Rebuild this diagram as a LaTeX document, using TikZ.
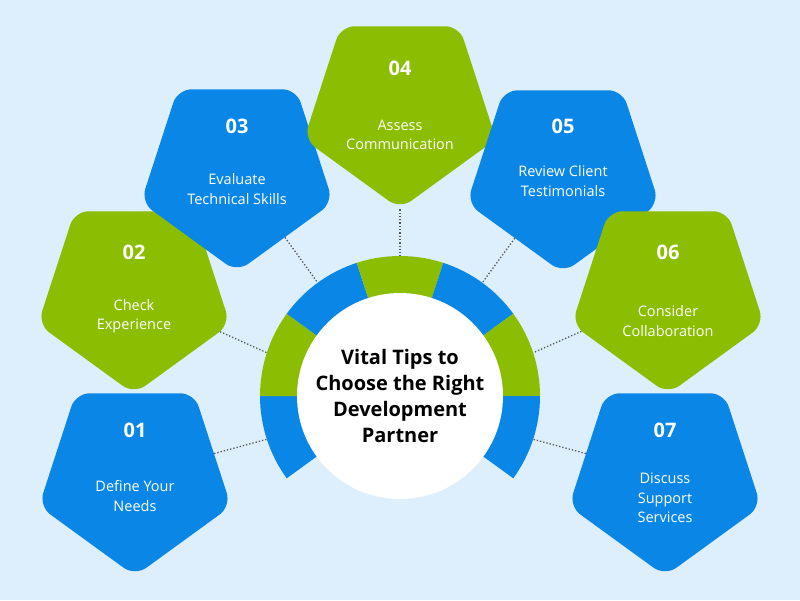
\documentclass[tikz,border=0pt]{standalone}
\usepackage{fontspec}
\setmainfont{Open Sans}
\usetikzlibrary{shapes.geometric}
\definecolor{bg}{HTML}{DDEEFC}
\definecolor{bl}{HTML}{0A86E6}
\definecolor{gr}{HTML}{8BBD00}
\definecolor{dl}{HTML}{555555}
\begin{document}
\begin{tikzpicture}[x=1pt,y=-1pt,
  pent/.style={regular polygon,regular polygon sides=5,shape border rotate=180,minimum size=202pt,inner sep=0pt,rounded corners=14pt,draw=none},
  num/.style={text=white,font=\bfseries\fontsize{20}{22}\selectfont},
  lab/.style={text=white,align=center,font=\fontsize{14.5}{19.5}\selectfont},
  conn/.style={dl,dotted,line width=1.3pt}]
\fill[bg] (0,0) rectangle (800,600);
\useasboundingbox (0,0) rectangle (800,600);
\coordinate (c) at (400,396);
% ring (angles negated because y axis points down)
\foreach \a/\col [count=\i] in {216/bl,180/gr,144/bl,108/gr,72/bl,36/gr,0/bl}{
  \fill[\col] ([shift={(-\a:140)}]c) arc[start angle=-\a,end angle=-\a+36,radius=140] -- ([shift={(-\a+36:100)}]c) arc[start angle=-\a+36,end angle=-\a,radius=100] -- cycle;
  \coordinate (r\i) at ([shift={(-\a+18:140)}]c);
}
\node[circle,fill=white,minimum size=206pt,inner sep=0pt,align=center,font=\bfseries\fontsize{20}{26}\selectfont] (center) at (c) {Vital Tips to\\Choose the Right\\Development\\Partner};
% pentagons
\node[pent,fill=bl] (p1) at (135,475) {};
\node[pent,fill=gr] (p2) at (134,293) {};
\node[pent,fill=bl] (p3) at (237,171) {};
\node[pent,fill=gr] (p4) at (400,108) {};
\node[pent,fill=bl] (p5) at (563,172) {};
\node[pent,fill=gr] (p6) at (668,293) {};
\node[pent,fill=bl] (p7) at (665,475) {};
\foreach \i in {1,...,7}{\draw[conn] (p\i) -- (r\i);}
\node[num] (n1) at (135,430) {01};
\node[lab] (t1) at (135,496) {Define Your\\Needs};
\node[num] (n2) at (134,252) {02};
\node[lab] (t2) at (134,316) {Check\\Experience};
\node[num] (n3) at (237,126) {03};
\node[lab] (t3) at (237,189) {Evaluate\\Technical Skills};
\node[num] (n4) at (400,68) {04};
\node[lab] (t4) at (400,135) {Assess\\Communication};
\node[num] (n5) at (563,126) {05};
\node[lab] (t5) at (563,181) {Review Client\\Testimonials};
\node[num] (n6) at (668,252) {06};
\node[lab] (t6) at (668,321) {Consider\\Collaboration};
\node[num] (n7) at (665,430) {07};
\node[lab] (t7) at (665,498) {Discuss\\Support\\Services};
\end{tikzpicture}
\end{document}
